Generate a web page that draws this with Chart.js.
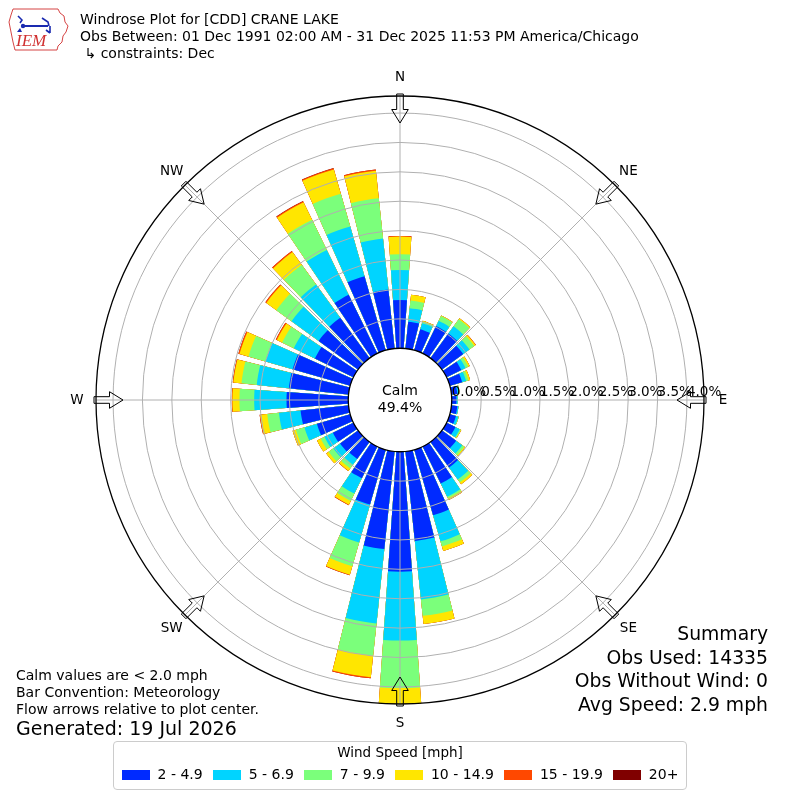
<!DOCTYPE html>
<html>
<head>
<meta charset="utf-8">
<script src="https://cdn.jsdelivr.net/npm/chart.js@4.4.1/dist/chart.umd.min.js"></script>
<style>
html,body{margin:0;padding:0;background:#fff;}
#wrap{position:relative;width:800px;height:800px;overflow:hidden;font-family:"DejaVu Sans",sans-serif;color:#000;}
#c{position:absolute;left:0;top:0;}
.t{position:absolute;white-space:nowrap;}
#legend{position:absolute;left:113px;top:741px;width:574px;height:49px;border:1px solid #cccccc;border-radius:4px;box-sizing:border-box;background:#fff;}
#legend .lt{position:absolute;left:0;right:0;top:2px;text-align:center;font-size:13.5px;line-height:17px;}
#legend .row{position:absolute;left:0;right:0;top:24px;display:flex;justify-content:center;align-items:center;gap:10px;font-size:14px;line-height:17px;white-space:nowrap;}
#legend .item{display:flex;align-items:center;white-space:nowrap;flex:none;}
#legend .sw{width:28px;height:10px;margin-right:8px;flex:none;}
</style>
</head>
<body>
<div id="wrap">
<canvas id="c" width="800" height="800"></canvas>
<svg class="t" style="left:8px;top:6px" width="62" height="46" viewBox="0 0 62 46">
  <path d="M5 3 L50 3 L52 7 L56 10 L57 16 L60 20 L58 26 L55 30 L54 36 L50 40 L49 44 L7 44 L5 36 L3 26 L1 16 L3 9 Z" fill="#fff" stroke="#d03030" stroke-width="0.9"/>
  <line x1="14" y1="20" x2="40" y2="20" stroke="#1a2ab0" stroke-width="2"/>
  <circle cx="15" cy="20" r="2.2" fill="#1a2ab0"/>
  <path d="M10 10 L14 14 L12 17 M34 12 L40 16 L41 20 M42 20 L42 27 M38 24 L42 27" stroke="#1a2ab0" stroke-width="1.6" fill="none"/>
  <path d="M9 26 L12 22 L14 26 Z" fill="#1a2ab0"/>
  <text x="8" y="40" font-family="Liberation Serif" font-style="italic" font-size="17" fill="#d03030">IEM</text>
</svg>
<div class="t" style="left:80px;top:11px;font-size:14px;line-height:17px">Windrose Plot for [CDD] CRANE LAKE<br>Obs Between: 01 Dec 1991 02:00 AM - 31 Dec 2025 11:53 PM America/Chicago<br>&nbsp;↳ constraints: Dec</div>
<div class="t" style="right:32px;top:622px;font-size:18.8px;line-height:23.5px;text-align:right">Summary<br>Obs Used: 14335<br>Obs Without Wind: 0<br>Avg Speed: 2.9 mph</div>
<div class="t" style="left:16px;top:667px;font-size:14px;line-height:17px">Calm values are &lt; 2.0 mph<br>Bar Convention: Meteorology<br>Flow arrows relative to plot center.</div>
<div class="t" style="left:16px;top:717px;font-size:19px;line-height:23px">Generated: 19 Jul 2026</div>
<div id="legend"><div class="lt">Wind Speed [mph]</div><div class="row" id="legrow"></div></div>
</div>
<script>
// ---- data (percent of observations) ----
const directions = [0,10,20,30,40,50,60,70,80,90,100,110,120,130,140,150,160,170,180,190,200,210,220,230,240,250,260,270,280,290,300,310,320,330,340,350];
const speedBins = ['2 - 4.9','5 - 6.9','7 - 9.9','10 - 14.9','15 - 19.9','20+'];
const speed2to5   = [0.82,0.46,0.37,0.52,0.52,0.45,0.28,0.22,0.10,0.08,0.10,0.11,0.17,0.30,0.54,0.70,1.16,1.53,2.04,1.67,0.97,0.60,0.36,0.38,0.39,0.59,0.82,1.05,1.02,1.02,0.73,0.83,0.85,1.11,1.31,1.01];
const speed5to7   = [0.51,0.23,0.11,0.10,0.15,0.13,0.08,0.07,0.03,0.02,0.02,0.04,0.08,0.13,0.25,0.25,0.46,1.00,1.17,1.27,0.67,0.29,0.12,0.14,0.16,0.22,0.37,0.55,0.55,0.48,0.40,0.57,0.70,0.85,0.88,0.87];
const speed7to10  = [0.27,0.13,0.03,0.09,0.15,0.10,0.05,0.04,0.01,0.00,0.00,0.01,0.02,0.04,0.06,0.03,0.09,0.28,0.81,0.55,0.42,0.14,0.08,0.10,0.07,0.15,0.20,0.25,0.26,0.30,0.22,0.32,0.41,0.57,0.58,0.69];
const speed10to15 = [0.30,0.10,0.01,0.01,0.02,0.03,0.03,0.03,0.00,0.00,0.00,0.00,0.01,0.02,0.04,0.03,0.08,0.14,0.27,0.37,0.15,0.07,0.05,0.05,0.07,0.06,0.12,0.12,0.14,0.16,0.10,0.21,0.27,0.33,0.43,0.47];
const speed15to20 = [0.01,0.00,0.00,0.00,0.00,0.005,0.00,0.00,0.00,0.00,0.00,0.00,0.00,0.00,0.00,0.00,0.00,0.00,0.00,0.02,0.01,0.01,0.005,0.00,0.00,0.00,0.01,0.01,0.01,0.02,0.02,0.02,0.02,0.02,0.02,0.02];
const speed20plus = [0,0,0,0,0,0,0,0,0,0,0,0,0,0,0,0,0,0,0,0,0,0,0,0,0,0,0,0,0,0,0,0,0,0.004,0.004,0];
const calmPercent = 49.4;
const tickValues = [0,0.5,1.0,1.5,2.0,2.5,3.0,3.5,4.0];
const radialMax = 4.29;
const compassLabels = ['N','NE','E','SE','S','SW','W','NW'];
const compassDegrees = [0,45,90,135,180,225,270,315];

// ---- styling ----
const binColors = ['#002aff','#00d4ff','#7bff7b','#ffe600','#ff4800','#800000'];
const BAR_DEG = 8, GAP_DEG = 2;
const calmHoleValue = -0.88;   // radial offset so 0% sits on the calm circle

const binSeries = [speed2to5, speed5to7, speed7to10, speed10to15, speed15to20, speed20plus];
const labels = [];
directions.forEach(d => { labels.push(d + '°'); labels.push(''); });
let running = directions.map(() => 0);
const datasets = binSeries.map((series, k) => {
  running = running.map((v, i) => v + series[i]);
  const data = [];
  running.forEach(v => { data.push(+v.toFixed(4)); data.push(0); });
  return {
    label: speedBins[k],
    data,
    backgroundColor: c => (c.dataIndex % 2 ? 'rgba(0,0,0,0)' : binColors[k]),
    borderWidth: 0,
    angle: data.map((_, i) => (i % 2 ? GAP_DEG : BAR_DEG))
  };
});

// legend
const row = document.getElementById('legrow');
speedBins.forEach((b, k) => {
  const it = document.createElement('div'); it.className = 'item';
  const sw = document.createElement('div'); sw.className = 'sw'; sw.style.background = binColors[k];
  const tx = document.createElement('span'); tx.textContent = b;
  it.appendChild(sw); it.appendChild(tx); row.appendChild(it);
});

const FONT = '"DejaVu Sans", sans-serif';
const rosePlugin = {
  id: 'rose',
  afterDatasetsDraw(chart) {
    const s = chart.scales.r, ctx = chart.ctx;
    const cx = s.xCenter, cy = s.yCenter;
    const r0 = s.getDistanceFromCenterForValue(0);
    const rOut = s.getDistanceFromCenterForValue(s.max);
    ctx.save();
    ctx.fillStyle = '#fff';
    ctx.beginPath(); ctx.arc(cx, cy, r0, 0, Math.PI * 2); ctx.fill();
    ctx.strokeStyle = '#b0b0b0'; ctx.lineWidth = 1;
    compassDegrees.forEach(a => {
      const t = a * Math.PI / 180;
      ctx.beginPath();
      ctx.moveTo(cx + r0 * Math.sin(t), cy - r0 * Math.cos(t));
      ctx.lineTo(cx + rOut * Math.sin(t), cy - rOut * Math.cos(t));
      ctx.stroke();
    });
    ctx.fillStyle = '#000';
    ctx.font = '14px ' + FONT;
    ctx.textAlign = 'center'; ctx.textBaseline = 'middle';
    ctx.fillText('Calm', cx, cy - 9);
    ctx.fillText(calmPercent.toFixed(1) + '%', cx, cy + 8);
    ctx.restore();
  },
  afterDraw(chart) {
    const s = chart.scales.r, ctx = chart.ctx;
    const cx = s.xCenter, cy = s.yCenter;
    const rOut = s.getDistanceFromCenterForValue(s.max);
    ctx.save();
    ctx.fillStyle = '#000';
    ctx.font = '13.5px ' + FONT;
    ctx.textAlign = 'left'; ctx.textBaseline = 'middle';
    tickValues.forEach(v => {
      ctx.fillText(v.toFixed(1) + '%', cx + s.getDistanceFromCenterForValue(v), cy - 8);
    });
    ctx.textAlign = 'center';
    compassDegrees.forEach((a, i) => {
      const t = a * Math.PI / 180;
      const ux = Math.sin(t), uy = -Math.cos(t), px = Math.cos(t), py = Math.sin(t);
      const rl = rOut + 19;
      ctx.fillStyle = '#000';
      ctx.fillText(compassLabels[i], cx + rl * ux, cy + rl * uy);
      const pts = [[rOut + 2, -3.3], [rOut - 13.5, -3.3], [rOut - 13.5, -8.3], [rOut - 27, 0], [rOut - 13.5, 8.3], [rOut - 13.5, 3.3], [rOut + 2, 3.3]];
      ctx.beginPath();
      pts.forEach(([r, w], j) => {
        const x = cx + r * ux + w * px, y = cy + r * uy + w * py;
        if (j) ctx.lineTo(x, y); else ctx.moveTo(x, y);
      });
      ctx.closePath();
      ctx.strokeStyle = '#000'; ctx.lineWidth = 1; ctx.stroke();
    });
    ctx.restore();
  }
};

new Chart(document.getElementById('c'), {
  type: 'polarArea',
  data: { labels, datasets },
  options: {
    responsive: false,
    animation: false,
    events: [],
    layout: { padding: { left: 96, right: 96, top: 96, bottom: 96 } },
    plugins: { legend: { display: false }, tooltip: { enabled: false } },
    scales: {
      r: {
        min: calmHoleValue,
        max: radialMax,
        startAngle: -BAR_DEG / 2,
        afterBuildTicks: scale => { scale.ticks = tickValues.concat([radialMax]).map(v => ({ value: v })); },
        ticks: { display: false, z: 1 },
        angleLines: { display: false },
        pointLabels: { display: false },
        grid: {
          z: 1,
          circular: true,
          color: c => (c.tick && (c.tick.value === 0 || c.tick.value === radialMax) ? '#000' : '#b0b0b0'),
          lineWidth: c => (c.tick && (c.tick.value === 0 || c.tick.value === radialMax) ? 1.3 : 1)
        }
      }
    }
  },
  plugins: [rosePlugin]
});
</script>
</body>
</html>
